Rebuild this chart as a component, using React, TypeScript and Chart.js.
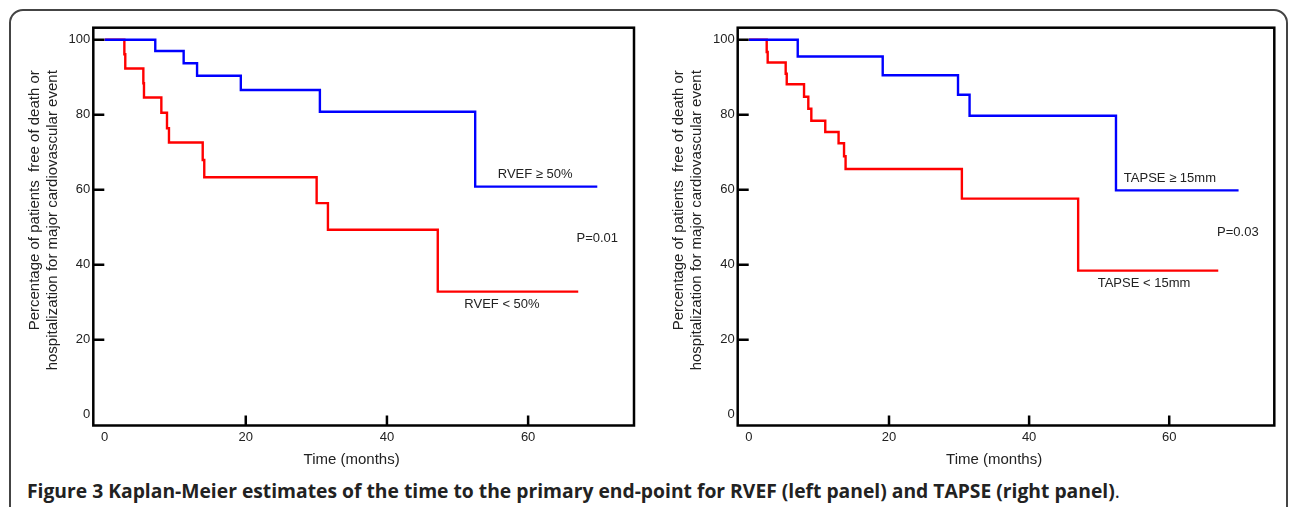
import React, { useEffect, useRef } from 'react';
import { Chart, registerables } from 'chart.js';

Chart.register(...registerables);

// ---- data ----
const xTickValues = [0, 20, 40, 60];
const yTickValues = [0, 20, 40, 60, 80, 100];

// Left panel: RVEF
const rvefHighTime = [0, 7.18, 11.2, 13.1, 19.3, 30.5, 52.5, 69.8];
const rvefHighSurv = [100, 97.0, 93.7, 90.4, 86.6, 80.8, 60.8, 60.8];
const rvefLowTime = [0, 2.8, 2.93, 5.49, 5.58, 8.04, 8.84, 9.12, 13.9, 14.12, 30.04, 31.64, 47.2, 67.1];
const rvefLowSurv = [100, 96.1, 92.3, 88.4, 84.6, 80.5, 76.4, 72.6, 67.9, 63.3, 56.4, 49.3, 32.8, 32.8];

// Right panel: TAPSE
const tapseHighTime = [0, 6.97, 19.1, 29.85, 31.5, 52.4, 69.9];
const tapseHighSurv = [100, 95.5, 90.5, 85.3, 79.7, 59.8, 59.8];
const tapseLowTime = [0, 2.54, 2.68, 5.25, 5.4, 7.87, 8.48, 8.91, 10.9, 12.8, 13.58, 13.8, 30.4, 47.0, 67.0];
const tapseLowSurv = [100, 96.7, 93.9, 90.9, 88.1, 84.8, 81.6, 78.4, 75.4, 72.4, 68.9, 65.5, 57.6, 38.4, 38.4];

const yTitleLines = ['Percentage of patients  free of death or', 'hospitalization for major cardiovascular event'];
const xTitle = 'Time (months)';

const leftNotes = [
  { text: 'RVEF \u2265 50%', x: 61.0, y: 64.2 },
  { text: 'P=0.01', x: 69.8, y: 47.1 },
  { text: 'RVEF < 50%', x: 56.3, y: 29.3 },
];
const rightNotes = [
  { text: 'TAPSE \u2265 15mm', x: 60.1, y: 63.1 },
  { text: 'P=0.03', x: 69.8, y: 48.7 },
  { text: 'TAPSE < 15mm', x: 56.4, y: 34.9 },
];

const FONT = '"Liberation Sans", Arial, Helvetica, sans-serif';
const TEXT = '#222';

const toPoints = (t: number[], s: number[]) => t.map((v, i) => ({ x: v, y: s[i] }));

const decorPlugin = {
  id: 'kmDecor',
  afterDatasetsDraw(chart: any, _args: any, opts: any) {
    const { ctx, chartArea: a, scales } = chart;
    const x = scales.x;
    const y = scales.y;
    ctx.save();
    // plot frame
    ctx.strokeStyle = '#000';
    ctx.lineWidth = 2.5;
    ctx.strokeRect(a.left, a.top, a.right - a.left, a.bottom - a.top);
    // inward tick marks
    ctx.beginPath();
    yTickValues.forEach((v) => {
      if (v === 0) return;
      const py = y.getPixelForValue(v);
      ctx.moveTo(a.left, py);
      ctx.lineTo(a.left + 11, py);
    });
    xTickValues.forEach((v) => {
      if (v === 0) return;
      const px = x.getPixelForValue(v);
      ctx.moveTo(px, a.bottom);
      ctx.lineTo(px, a.bottom - 10);
    });
    ctx.stroke();
    // annotations
    ctx.fillStyle = TEXT;
    ctx.font = `13px ${FONT}`;
    ctx.textAlign = 'center';
    ctx.textBaseline = 'middle';
    (opts.notes || []).forEach((n: any) => {
      ctx.fillText(n.text, x.getPixelForValue(n.x), y.getPixelForValue(n.y));
    });
    // x title
    ctx.font = `15px ${FONT}`;
    ctx.fillText(xTitle, x.getPixelForValue(35), a.bottom + 34.5);
    // y title (two rotated lines, end-aligned at the top)
    const offs = [58.5, 40.5];
    yTitleLines.forEach((line, i) => {
      ctx.save();
      ctx.translate(a.left - offs[i], a.top + 42.5);
      ctx.rotate(-Math.PI / 2);
      ctx.textAlign = 'right';
      ctx.fillText(line, 0, 0);
      ctx.restore();
    });
    ctx.restore();
  },
};

function makeConfig(high: { t: number[]; s: number[] }, low: { t: number[]; s: number[] }, notes: any[], yWidth: number, rightPad: number) {
  const common = {
    type: 'linear',
    grid: { display: false, drawTicks: false },
    border: { display: false },
  };
  return {
    type: 'line',
    data: {
      datasets: [
        {
          label: 'high',
          data: toPoints(high.t, high.s),
          borderColor: '#0000ff',
          borderWidth: 2.4,
          stepped: 'before',
          pointRadius: 0,
          fill: false,
          borderCapStyle: 'butt',
          borderJoinStyle: 'miter',
        },
        {
          label: 'low',
          data: toPoints(low.t, low.s),
          borderColor: '#ff0000',
          borderWidth: 2.4,
          stepped: 'before',
          pointRadius: 0,
          fill: false,
          borderCapStyle: 'butt',
          borderJoinStyle: 'miter',
        },
      ],
    },
    options: {
      animation: false,
      responsive: false,
      events: [],
      layout: { padding: { top: 27.7, right: rightPad, left: 0, bottom: 0 } },
      plugins: {
        legend: { display: false },
        tooltip: { enabled: false },
        kmDecor: { notes },
      },
      scales: {
        x: {
          ...common,
          min: -1.6,
          max: 75,
          afterBuildTicks: (s: any) => {
            s.ticks = xTickValues.map((v) => ({ value: v }));
          },
          afterFit: (s: any) => {
            s.height = 44.5;
          },
          ticks: {
            autoSkip: false,
            maxRotation: 0,
            padding: 4,
            color: TEXT,
            font: { family: FONT, size: 13 },
            callback: (v: any) => String(v),
          },
        },
        y: {
          ...common,
          min: -2.9,
          max: 103.2,
          afterBuildTicks: (s: any) => {
            s.ticks = yTickValues.map((v) => ({ value: v }));
          },
          afterFit: (s: any) => {
            s.width = yWidth;
          },
          ticks: {
            autoSkip: false,
            padding: 3,
            color: TEXT,
            font: { family: FONT, size: 13 },
            callback: (v: any) => String(v),
          },
        },
      },
    },
    plugins: [decorPlugin],
  };
}

function KMPanel(props: { left: number; config: any }) {
  const ref = useRef<HTMLCanvasElement | null>(null);
  useEffect(() => {
    if (!ref.current) return;
    const chart = new Chart(ref.current, props.config);
    return () => chart.destroy();
  }, []);
  return (
    <canvas
      ref={ref}
      width={645}
      height={470}
      style={{ position: 'absolute', left: props.left, top: 0, width: 645, height: 470 }}
    />
  );
}

export default function App() {
  const leftCfg = makeConfig({ t: rvefHighTime, s: rvefHighSurv }, { t: rvefLowTime, s: rvefLowSurv }, leftNotes, 93.3, 11);
  const rightCfg = makeConfig({ t: tapseHighTime, s: tapseHighSurv }, { t: tapseLowTime, s: tapseLowSurv }, rightNotes, 92.7, 15.7);
  return (
    <div style={{ position: 'absolute', left: 0, top: 0, width: 1290, height: 507, overflow: 'hidden', background: '#fff' }}>
      <div
        style={{
          position: 'absolute',
          left: 9,
          top: 9,
          width: 1279,
          height: 600,
          border: '2px solid #444',
          borderRadius: 14,
          boxSizing: 'border-box',
        }}
      />
      <KMPanel left={0} config={leftCfg} />
      <KMPanel left={645} config={rightCfg} />
      <div
        style={{
          position: 'absolute',
          left: 27,
          top: 478,
          whiteSpace: 'nowrap',
          fontFamily: '"Open Sans", "Noto Sans", sans-serif',
          fontSize: 19.3,
          lineHeight: '26px',
          color: '#222',
          fontWeight: 700,
        }}
      >
        Figure 3 Kaplan-Meier estimates of the time to the primary end-point for RVEF (left panel) and TAPSE (right panel)
        <span style={{ fontWeight: 400 }}>.</span>
      </div>
    </div>
  );
}
